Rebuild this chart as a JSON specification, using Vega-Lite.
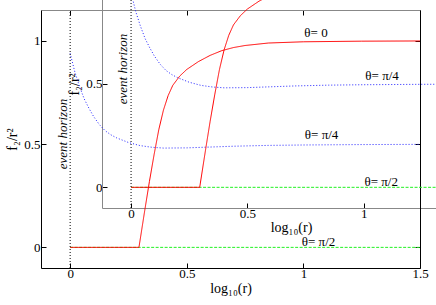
{
  "$schema": "https://vega.github.io/schema/vega-lite/v6.json",
  "width": 379,
  "height": 258,
  "autosize": "none",
  "padding": {"left": 41, "top": 10, "right": 16, "bottom": 37},
  "background": "white",
  "view": {"stroke": null},
  "config": {
    "font": "Liberation Serif",
    "axis": {
      "labelFont": "Liberation Serif",
      "titleFont": "Liberation Serif",
      "labelColor": "black",
      "titleColor": "black",
      "titleFontWeight": "normal",
      "labelFontSize": 13,
      "titleFontSize": 14,
      "grid": false,
      "tickColor": "black",
      "domainColor": "black",
      "labelFlush": false,
      "labelOverlap": false,
      "format": "~g"
    }
  },
  "datasets": {
    "curves": [
      {"s": "θ=π/2", "x": 0, "v": 0},
      {"s": "θ=π/2", "x": 1.5, "v": 0},
      {"s": "θ=π/4", "x": 0, "v": 0.94},
      {"s": "θ=π/4", "x": 0.02, "v": 0.85},
      {"s": "θ=π/4", "x": 0.04, "v": 0.78},
      {"s": "θ=π/4", "x": 0.06, "v": 0.72},
      {"s": "θ=π/4", "x": 0.08, "v": 0.675},
      {"s": "θ=π/4", "x": 0.1, "v": 0.635},
      {"s": "θ=π/4", "x": 0.125, "v": 0.595},
      {"s": "θ=π/4", "x": 0.15, "v": 0.565},
      {"s": "θ=π/4", "x": 0.175, "v": 0.545},
      {"s": "θ=π/4", "x": 0.2, "v": 0.53},
      {"s": "θ=π/4", "x": 0.25, "v": 0.508},
      {"s": "θ=π/4", "x": 0.3, "v": 0.493},
      {"s": "θ=π/4", "x": 0.35, "v": 0.485},
      {"s": "θ=π/4", "x": 0.4, "v": 0.481},
      {"s": "θ=π/4", "x": 0.5, "v": 0.482},
      {"s": "θ=π/4", "x": 0.6, "v": 0.486},
      {"s": "θ=π/4", "x": 0.7, "v": 0.49},
      {"s": "θ=π/4", "x": 0.85, "v": 0.494},
      {"s": "θ=π/4", "x": 1.0, "v": 0.496},
      {"s": "θ=π/4", "x": 1.25, "v": 0.498},
      {"s": "θ=π/4", "x": 1.5, "v": 0.499},
      {"s": "θ=0", "x": 0, "v": 0},
      {"s": "θ=0", "x": 0.295, "v": 0},
      {"s": "θ=0", "x": 0.32, "v": 0.18},
      {"s": "θ=0", "x": 0.34, "v": 0.32},
      {"s": "θ=0", "x": 0.36, "v": 0.45},
      {"s": "θ=0", "x": 0.38, "v": 0.57},
      {"s": "θ=0", "x": 0.4, "v": 0.665},
      {"s": "θ=0", "x": 0.42, "v": 0.735},
      {"s": "θ=0", "x": 0.44, "v": 0.785},
      {"s": "θ=0", "x": 0.47, "v": 0.83},
      {"s": "θ=0", "x": 0.5, "v": 0.862},
      {"s": "θ=0", "x": 0.55, "v": 0.9},
      {"s": "θ=0", "x": 0.6, "v": 0.93},
      {"s": "θ=0", "x": 0.65, "v": 0.953},
      {"s": "θ=0", "x": 0.7, "v": 0.968},
      {"s": "θ=0", "x": 0.75, "v": 0.978},
      {"s": "θ=0", "x": 0.85, "v": 0.99},
      {"s": "θ=0", "x": 1.0, "v": 0.996},
      {"s": "θ=0", "x": 1.25, "v": 0.999},
      {"s": "θ=0", "x": 1.5, "v": 1.0}
    ],
    "labels": [
      {"p": "m", "t": "θ= 0", "x": 1.054, "v": 1.039},
      {"p": "m", "t": "θ= π/4", "x": 1.078, "v": 0.545},
      {"p": "m", "t": "θ= π/2", "x": 1.065, "v": 0.026},
      {"p": "i", "t": "θ= π/4", "x": 1.079, "v": 0.538},
      {"p": "i", "t": "θ= π/2", "x": 1.075, "v": 0.028}
    ],
    "horizon": [
      {"p": "m", "t": "event horizon", "x": 0, "tx": -0.031, "v": 0.549, "v0": -0.1, "v1": 1.15},
      {"p": "i", "t": "event horizon", "x": 0, "tx": -0.035, "v": 0.572, "v0": -0.1, "v1": 1.1}
    ]
  },
  "layer": [
    {
      "data": {"name": "curves"},
      "mark": {"type": "line", "strokeWidth": 1},
      "encoding": {
        "x": {"field": "x", "type": "quantitative",
          "scale": {"domain": [-0.125, 1.5], "nice": false, "zero": false},
          "axis": {"orient": "bottom", "values": [0, 0.5, 1, 1.5], "tickSize": -5, "labelPadding": 4, "title": "log₁₀(r)", "titlePadding": 1}},
        "y": {"field": "v", "type": "quantitative",
          "scale": {"domain": [-0.1, 1.15], "nice": false, "zero": false},
          "axis": {"orient": "left", "values": [0, 0.5, 1], "tickSize": -5, "labelPadding": 6, "title": "f₂/r²", "titlePadding": 4}},
        "color": {"field": "s", "type": "nominal", "legend": null,
          "scale": {"domain": ["θ=π/2", "θ=π/4", "θ=0"], "range": ["#22f022", "#2222ff", "#ff0000"]}},
        "strokeDash": {"field": "s", "type": "nominal", "legend": null,
          "scale": {"domain": ["θ=π/2", "θ=π/4", "θ=0"], "range": [[3, 1.5], [1, 2], [1, 0]]}}
      }
    },
    {
      "data": {"name": "labels"},
      "transform": [{"filter": "datum.p == 'm'"}],
      "mark": {"type": "text", "fontSize": 13, "font": "Liberation Serif", "align": "center", "baseline": "middle", "color": "black"},
      "encoding": {
        "x": {"field": "x", "type": "quantitative",
          "scale": {"domain": [-0.125, 1.5], "nice": false, "zero": false},
          "axis": {"orient": "top", "values": [0, 0.5, 1, 1.5], "tickSize": -5, "labels": false, "title": null, "domainColor": "#888888"}},
        "y": {"field": "v", "type": "quantitative",
          "scale": {"domain": [-0.1, 1.15], "nice": false, "zero": false},
          "axis": {"orient": "right", "values": [0, 0.5, 1], "tickSize": -5, "labels": false, "title": null}},
        "text": {"field": "t"}
      }
    },
    {
      "data": {"name": "horizon"},
      "transform": [{"filter": "datum.p == 'm'"}],
      "mark": {"type": "rule", "color": "black", "strokeWidth": 1, "strokeDash": [1, 2]},
      "encoding": {
        "x": {"field": "x", "type": "quantitative",
          "scale": {"domain": [-0.125, 1.5], "nice": false, "zero": false}, "axis": null},
        "y": {"field": "v0", "type": "quantitative",
          "scale": {"domain": [-0.1, 1.15], "nice": false, "zero": false}, "axis": null},
        "y2": {"field": "v1"}
      }
    },
    {
      "data": {"name": "horizon"},
      "transform": [{"filter": "datum.p == 'm'"}],
      "mark": {"type": "text", "angle": 270, "fontSize": 13, "fontStyle": "italic", "font": "Liberation Serif", "align": "center", "baseline": "middle", "color": "black"},
      "encoding": {
        "x": {"field": "tx", "type": "quantitative",
          "scale": {"domain": [-0.125, 1.5], "nice": false, "zero": false}, "axis": null},
        "y": {"field": "v", "type": "quantitative",
          "scale": {"domain": [-0.1, 1.15], "nice": false, "zero": false}, "axis": null},
        "text": {"field": "t"}
      }
    },
    {
      "data": {"name": "curves"},
      "mark": {"type": "line", "strokeWidth": 1},
      "encoding": {
        "x": {"field": "x", "type": "quantitative",
          "scale": {"domain": [-0.125, 1.5], "range": [61, 439], "nice": false, "zero": false},
          "axis": {"orient": "bottom", "offset": -60, "values": [0, 0.5, 1], "tickSize": -5, "labelPadding": 4, "title": "log₁₀(r)", "titlePadding": 0, "domainColor": "#888888"}},
        "y": {"field": "v", "type": "quantitative",
          "scale": {"domain": [-0.1, 1.1], "range": [198, -50.2], "nice": false, "zero": false},
          "axis": {"orient": "left", "offset": -61, "values": [0, 0.5], "tickSize": -5, "labelPadding": 5, "title": "f₂/r²", "titlePadding": 4, "domainColor": "#888888"}},
        "color": {"field": "s", "type": "nominal", "legend": null},
        "strokeDash": {"field": "s", "type": "nominal", "legend": null}
      }
    },
    {
      "data": {"name": "labels"},
      "transform": [{"filter": "datum.p == 'i'"}],
      "mark": {"type": "text", "fontSize": 13, "font": "Liberation Serif", "align": "center", "baseline": "middle", "color": "black"},
      "encoding": {
        "x": {"field": "x", "type": "quantitative",
          "scale": {"domain": [-0.125, 1.5], "range": [61, 439], "nice": false, "zero": false}, "axis": null},
        "y": {"field": "v", "type": "quantitative",
          "scale": {"domain": [-0.1, 1.1], "range": [198, -50.2], "nice": false, "zero": false}, "axis": null},
        "text": {"field": "t"}
      }
    },
    {
      "data": {"name": "horizon"},
      "transform": [{"filter": "datum.p == 'i'"}],
      "mark": {"type": "rule", "color": "black", "strokeWidth": 1, "strokeDash": [1, 2]},
      "encoding": {
        "x": {"field": "x", "type": "quantitative",
          "scale": {"domain": [-0.125, 1.5], "range": [61, 439], "nice": false, "zero": false}, "axis": null},
        "y": {"field": "v0", "type": "quantitative",
          "scale": {"domain": [-0.1, 1.1], "range": [198, -50.2], "nice": false, "zero": false}, "axis": null},
        "y2": {"field": "v1"}
      }
    },
    {
      "data": {"name": "horizon"},
      "transform": [{"filter": "datum.p == 'i'"}],
      "mark": {"type": "text", "angle": 270, "fontSize": 13, "fontStyle": "italic", "font": "Liberation Serif", "align": "center", "baseline": "middle", "color": "black"},
      "encoding": {
        "x": {"field": "tx", "type": "quantitative",
          "scale": {"domain": [-0.125, 1.5], "range": [61, 439], "nice": false, "zero": false}, "axis": null},
        "y": {"field": "v", "type": "quantitative",
          "scale": {"domain": [-0.1, 1.1], "range": [198, -50.2], "nice": false, "zero": false}, "axis": null},
        "text": {"field": "t"}
      }
    }
  ],
  "resolve": {
    "scale": {"x": "independent", "y": "independent"},
    "axis": {"x": "independent", "y": "independent"}
  }
}
